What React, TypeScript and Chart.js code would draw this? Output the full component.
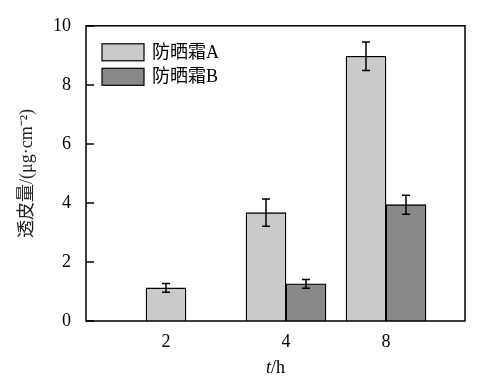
import React, { useEffect, useRef } from 'react';
import { Chart, registerables } from 'chart.js';

Chart.register(...registerables);

// ---- data ----
const categories = ['2', '4', '8'];
const seriesNames = ['防晒霜A', '防晒霜B'];
const seriesA = [1.12, 3.67, 8.97];
const seriesB: (number | null)[] = [null, 1.26, 3.94];
const errA = [0.15, 0.46, 0.48];
const errB: (number | null)[] = [null, 0.15, 0.32];
const yTicks = [0, 2, 4, 6, 8, 10];

// ---- layout (positions of category groups along the x axis) ----
const groupX = [0.8, 2.0, 3.0];
const X_MAX = 3.79;

const SERIF = "'Liberation Serif', 'Times New Roman', 'Noto Sans CJK SC', serif";
const FILL_A = 'rgb(201,202,201)';
const FILL_B = 'rgb(137,137,137)';
const FS = 18;

const errorBarPlugin = {
  id: 'errorBars',
  afterDatasetsDraw(chart: any) {
    const ctx = chart.ctx;
    const yScale = chart.scales.y;
    const errs = [errA, errB];
    ctx.save();
    ctx.strokeStyle = '#000';
    ctx.lineWidth = 1.5;
    chart.data.datasets.forEach((ds: any, di: number) => {
      const meta = chart.getDatasetMeta(di);
      meta.data.forEach((el: any, j: number) => {
        const v = ds.data[j].y;
        const e = errs[di][j];
        if (v == null || e == null) return;
        const x = Math.round(el.x);
        const yt = yScale.getPixelForValue(v + e);
        const yb = yScale.getPixelForValue(v - e);
        ctx.beginPath();
        ctx.moveTo(x, yt);
        ctx.lineTo(x, yb);
        ctx.moveTo(x - 4, yt);
        ctx.lineTo(x + 4, yt);
        ctx.moveTo(x - 4, yb);
        ctx.lineTo(x + 4, yb);
        ctx.stroke();
      });
    });
    ctx.restore();
  },
};

const framePlugin = {
  id: 'frame',
  afterDraw(chart: any) {
    const ctx = chart.ctx;
    const a = chart.chartArea;
    const yScale = chart.scales.y;
    ctx.save();
    ctx.strokeStyle = '#000';
    ctx.lineWidth = 1.5;
    ctx.strokeRect(a.left, a.top, a.right - a.left, a.bottom - a.top);
    // inward y ticks
    yTicks.forEach((t) => {
      const y = Math.round(yScale.getPixelForValue(t));
      ctx.beginPath();
      ctx.moveTo(a.left, y);
      ctx.lineTo(a.left + 8, y);
      ctx.stroke();
    });
    // legend
    const fills = [FILL_A, FILL_B];
    ctx.font = `${FS}px ${SERIF}`;
    ctx.textBaseline = 'middle';
    ctx.textAlign = 'left';
    seriesNames.forEach((name, i) => {
      const bx = a.left + 16;
      const by = a.top + 18 + i * 24.5;
      ctx.fillStyle = fills[i];
      ctx.fillRect(bx, by, 42, 17);
      ctx.lineWidth = 1.2;
      ctx.strokeRect(bx, by, 42, 17);
      ctx.fillStyle = '#000';
      ctx.fillText(name, bx + 50, by + 9);
    });
    // x axis title: italic t + "/h"
    const cx = (a.left + a.right) / 2;
    const ty = 368;
    ctx.font = `italic ${FS}px ${SERIF}`;
    const w1 = ctx.measureText('t').width;
    ctx.font = `${FS}px ${SERIF}`;
    const w2 = ctx.measureText('/h').width;
    const sx = cx - (w1 + w2) / 2;
    ctx.textAlign = 'left';
    ctx.font = `italic ${FS}px ${SERIF}`;
    ctx.fillText('t', sx, ty);
    ctx.font = `${FS}px ${SERIF}`;
    ctx.fillText('/h', sx + w1, ty);
    ctx.restore();
  },
};

export default function App() {
  const ref = useRef<HTMLCanvasElement>(null);
  useEffect(() => {
    if (!ref.current) return;
    const chart = new Chart(ref.current, {
      type: 'bar',
      data: {
        datasets: [
          {
            label: seriesNames[0],
            data: groupX.map((x, i) => ({ x, y: seriesA[i] })),
            backgroundColor: FILL_A,
            borderColor: '#000',
            borderWidth: 1.3,
            barThickness: 40,
            skipNull: true,
          } as any,
          {
            label: seriesNames[1],
            data: groupX.map((x, i) => ({ x, y: seriesB[i] })),
            backgroundColor: FILL_B,
            borderColor: '#000',
            borderWidth: 1.3,
            barThickness: 40,
            skipNull: true,
          } as any,
        ],
      },
      options: {
        responsive: false,
        animation: false,
        devicePixelRatio: 1,
        layout: { padding: { left: 0, top: 20, right: 38, bottom: 0 } },
        plugins: {
          legend: { display: false },
          tooltip: { enabled: false },
        },
        scales: {
          x: {
            type: 'linear',
            min: 0,
            max: X_MAX,
            offset: false,
            grid: { display: false, drawTicks: false, offset: false },
            border: { display: false },
            afterBuildTicks: (scale: any) => {
              scale.ticks = groupX.map((v) => ({ value: v }));
            },
            afterFit: (scale: any) => {
              scale.height = 62;
            },
            ticks: {
              autoSkip: false,
              maxRotation: 0,
              padding: 10,
              color: '#000',
              font: { family: SERIF, size: FS },
              callback: (_v: any, i: number) => categories[i],
            },
          },
          y: {
            min: 0,
            max: 10,
            grid: { display: false, drawTicks: false },
            border: { display: false },
            afterBuildTicks: (scale: any) => {
              scale.ticks = yTicks.map((v) => ({ value: v }));
            },
            afterFit: (scale: any) => {
              scale.width = 86;
            },
            ticks: {
              padding: 15,
              color: '#000',
              font: { family: SERIF, size: FS },
              callback: (v: any) => String(v),
            },
            title: {
              display: true,
              text: '透皮量/(μg·cm⁻²)',
              color: '#222',
              font: { family: SERIF, size: FS },
              padding: { top: 16, bottom: 0 },
            },
          },
        },
      } as any,
      plugins: [errorBarPlugin, framePlugin],
    });
    return () => chart.destroy();
  }, []);
  return (
    <div style={{ position: 'absolute', left: 0, top: 0, width: 503, height: 383, background: '#fff' }}>
      <canvas ref={ref} width={503} height={383} />
    </div>
  );
}
